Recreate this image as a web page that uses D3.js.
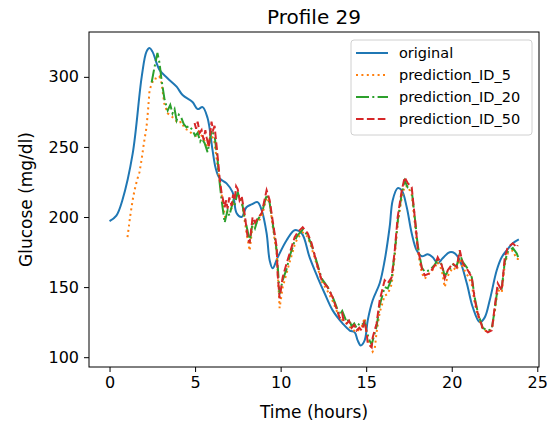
<!DOCTYPE html>
<html>
<head>
<meta charset="utf-8">
<script src="https://cdn.jsdelivr.net/npm/d3@7"></script>
<style>
  body { margin: 0; background: #fff; }
  text { font-family: "DejaVu Sans", sans-serif; fill: #000; }
</style>
</head>
<body>
<div id="chart"></div>
<script>
// original glucose profile
var origT = [0, 0.4, 0.75, 1.35, 1.88, 2.16, 2.34, 2.51, 2.92, 3.39, 3.92, 4.27, 4.85, 5.15, 5.44, 5.73, 6.02, 6.2, 6.43, 6.84, 7.19, 7.43, 7.72, 8.0, 8.3, 8.65, 8.89, 9.18, 9.36, 9.53, 9.82, 10.35, 10.82, 11.23, 11.7, 12.16, 12.57, 13.04, 13.63, 14.04, 14.33, 14.5, 14.68, 14.91, 15.09, 15.38, 15.79, 16.08, 16.37, 16.55, 16.84, 17.08, 17.37, 17.66, 17.95, 18.25, 18.6, 18.89, 19.18, 19.47, 19.88, 20.18, 20.47, 20.88, 21.23, 21.64, 21.93, 22.22, 22.63, 22.92, 23.22, 23.57, 23.92];
var origV = [197, 201, 212, 245, 300, 318, 320.6, 318, 305, 299, 293, 287, 282, 277, 278.4, 270.6, 247.7, 235, 227.7, 224, 217.7, 202.7, 200, 207, 209, 210.6, 204.9, 188.4, 169, 163.4, 171, 183.4, 190.6, 188.4, 171, 157, 145.6, 133.4, 124, 119, 117.7, 112, 108.4, 112, 126.3, 140.6, 152.7, 169, 192.7, 212, 220.6, 219, 207, 188.4, 176.3, 172, 173.4, 171.3, 167, 170.6, 174.9, 174.1, 169.1, 152.7, 135.6, 124.9, 128.4, 140.6, 162, 171.3, 176.3, 181.3, 184.1];

// prediction_ID_5
var p5T = [1.05, 1.2, 1.35, 1.46, 1.6, 1.75, 1.87, 2.0, 2.16, 2.25, 2.34, 2.5, 2.63, 2.8, 2.92, 3.04, 3.2, 3.4, 3.6, 3.8, 4.0, 4.2, 4.4, 4.6, 4.85, 5.05, 5.2, 5.38, 5.56, 5.73, 5.9, 6.1, 6.3, 6.43, 6.6, 6.75, 6.9, 7.13, 7.31, 7.49, 7.72, 7.89, 8.07, 8.19, 8.36, 8.65, 8.89, 9.18, 9.36, 9.53, 9.77, 9.94, 10.12, 10.35, 10.53, 10.82, 10.99, 11.29, 11.58, 11.81, 12.11, 12.4, 12.75, 13.04, 13.45, 13.86, 14.15, 14.44, 14.74, 14.91, 15.03, 15.2, 15.38, 15.5, 15.61, 15.79, 16.08, 16.26, 16.49, 16.67, 16.84, 17.08, 17.25, 17.43, 17.66, 17.84, 18.01, 18.25, 18.42, 18.71, 19.01, 19.18, 19.42, 19.59, 19.77, 20.06, 20.29, 20.47, 20.64, 20.94, 21.17, 21.35, 21.52, 21.81, 22.11, 22.34, 22.51, 22.69, 22.92, 23.1, 23.27, 23.57, 23.8, 23.92];
var p5V = [185.6, 200, 212, 219, 226, 232, 240.6, 252, 264, 276, 290.6, 296, 299, 298.4, 300, 295.6, 281, 274, 272, 270, 267, 268, 263, 262, 259, 258, 261, 258, 254, 250, 258, 256, 238, 226, 212, 200, 204, 206, 211, 216, 211, 198, 184, 176, 194, 196, 200, 214, 210, 194, 174, 135, 150, 160, 168, 180, 185, 189, 186, 178, 166, 154, 147, 140, 128, 124, 120, 118, 122, 128, 116, 110, 104, 106, 118, 132, 144, 145, 152, 172, 195, 214, 222, 222, 216, 196, 176, 160, 156, 160, 164, 168, 162, 150, 158, 164, 162, 170, 164, 158, 152, 138, 130, 120, 118, 120, 132, 148, 146, 166, 174, 176, 170, 170];

// prediction_ID_20
var p20T = [2.46, 2.63, 2.8, 2.92, 3.04, 3.22, 3.4, 3.55, 3.68, 3.8, 3.92, 4.05, 4.2, 4.35, 4.5, 4.65, 4.85, 5.0, 5.15, 5.3, 5.38, 5.56, 5.73, 5.85, 5.96, 6.14, 6.32, 6.43, 6.55, 6.73, 6.9, 7.0, 7.13, 7.22, 7.31, 7.49, 7.6, 7.72, 7.89, 8.07, 8.19, 8.36, 8.5, 8.65, 8.89, 9.18, 9.36, 9.53, 9.77, 9.94, 10.12, 10.35, 10.53, 10.82, 10.99, 11.29, 11.58, 11.81, 12.11, 12.4, 12.75, 13.04, 13.2, 13.45, 13.6, 13.86, 14.0, 14.15, 14.3, 14.44, 14.6, 14.74, 14.91, 15.03, 15.2, 15.32, 15.45, 15.61, 15.79, 16.08, 16.26, 16.49, 16.67, 16.84, 17.08, 17.25, 17.43, 17.66, 17.84, 18.01, 18.25, 18.42, 18.71, 19.01, 19.18, 19.42, 19.59, 19.77, 20.06, 20.29, 20.47, 20.64, 20.94, 21.17, 21.35, 21.52, 21.81, 22.11, 22.34, 22.51, 22.69, 22.92, 23.1, 23.27, 23.57, 23.8, 23.92];
var p20V = [296, 307, 317, 310, 297.7, 283.4, 276, 280, 274, 277, 269, 273, 270.6, 266, 264, 265, 262, 258, 260, 254, 256, 252.7, 246.3, 254, 262, 258, 240, 225, 212, 196, 205, 201, 207, 211, 208, 218, 213, 212, 200, 190, 182, 196, 192, 198, 202, 216, 210, 196, 176, 145, 155, 163, 172, 183, 187, 191, 187, 180, 168, 156, 150, 143, 138, 130, 133, 125, 127, 122, 124, 121, 124, 123, 125, 118, 112, 109, 115, 122, 137, 150, 149, 156, 175, 197, 217, 226, 221, 219, 200, 180, 164, 161, 162, 166, 170, 166, 158, 161, 166, 165, 174, 168, 163, 157, 142, 132, 121, 119, 120, 134, 150, 149, 168, 175, 178, 174, 170];

// prediction_ID_50
var p50T = [4.97, 5.06, 5.15, 5.27, 5.38, 5.5, 5.6, 5.67, 5.8, 5.96, 6.05, 6.14, 6.32, 6.43, 6.55, 6.73, 6.82, 6.9, 7.0, 7.13, 7.22, 7.31, 7.4, 7.49, 7.6, 7.72, 7.89, 8.07, 8.19, 8.36, 8.5, 8.65, 8.89, 9.18, 9.36, 9.53, 9.77, 9.82, 9.94, 10.12, 10.35, 10.53, 10.82, 10.99, 11.29, 11.58, 11.81, 12.11, 12.4, 12.75, 13.04, 13.45, 13.6, 13.7, 13.86, 14.0, 14.15, 14.3, 14.44, 14.6, 14.74, 14.91, 15.03, 15.09, 15.32, 15.38, 15.61, 15.79, 16.08, 16.26, 16.49, 16.67, 16.84, 17.08, 17.25, 17.43, 17.66, 17.84, 18.01, 18.25, 18.42, 18.71, 19.01, 19.18, 19.42, 19.59, 19.77, 20.06, 20.29, 20.47, 20.64, 20.94, 21.17, 21.35, 21.52, 21.81, 22.11, 22.34, 22.51, 22.69, 22.92, 23.1, 23.27, 23.57, 23.8, 23.86];
var p50V = [267, 263, 268, 260, 262, 255, 262, 257, 250, 268, 262, 265, 243, 228.4, 217, 207, 212, 206, 214, 208, 216, 212, 222, 220, 212, 215, 202.7, 185.6, 181.3, 199.9, 196, 199.1, 202.7, 219.1, 212, 197.7, 178.4, 159.9, 142, 157, 167, 174.1, 185.6, 189.1, 192.7, 188.4, 181.3, 167, 154.9, 149.9, 142.7, 128, 131, 125, 124, 126, 121, 123, 119, 121, 119, 126, 117, 109.9, 107, 114.1, 124.1, 140.6, 154.9, 152.7, 157, 176.3, 199.9, 219.1, 228.4, 224.1, 221.3, 199.9, 178.4, 163.4, 158.4, 159.9, 165.6, 171.3, 165.6, 156.3, 162, 167, 164.1, 176.3, 167, 162, 157, 140.6, 131.3, 120.6, 117.7, 119.1, 135.6, 152.7, 147.7, 171.3, 178.4, 181.3, 178.4, 179.9];

var xTicks = [0, 5, 10, 15, 20, 25];
var yTicks = [100, 150, 200, 250, 300];

var series = [
  { name: "original", t: origT, v: origV, color: "#1f77b4", dash: null, curve: d3.curveCatmullRom },
  { name: "prediction_ID_5", t: p5T, v: p5V, color: "#ff7f0e", dash: "2,3.4", curve: d3.curveLinear },
  { name: "prediction_ID_20", t: p20T, v: p20V, color: "#2ca02c", dash: "13,3.3,2,3.3", curve: d3.curveLinear },
  { name: "prediction_ID_50", t: p50T, v: p50V, color: "#d62728", dash: "7.6,3.3", curve: d3.curveLinear }
];

var W = 555, H = 425;
var margin = { left: 89, right: 16, top: 32, bottom: 58 };
var iw = W - margin.left - margin.right, ih = H - margin.top - margin.bottom;

var svg = d3.select("#chart").append("svg")
    .attr("width", W)
    .attr("height", H);

var g = svg.append("g")
    .attr("transform", "translate(" + margin.left + "," + margin.top + ")");

var x = d3.scaleLinear().domain([-1.2, 25.1]).range([0, iw]);
var y = d3.scaleLinear().domain([93, 332]).range([ih, 0]);

g.append("defs").append("clipPath").attr("id", "clip")
  .append("rect").attr("width", iw).attr("height", ih);

var lines = g.append("g").attr("clip-path", "url(#clip)");
series.forEach(function(s){
  var pts = s.t.map(function(t, i){ return [t, s.v[i]]; });
  var line = d3.line()
      .x(function(d){ return x(d[0]); })
      .y(function(d){ return y(d[1]); })
      .curve(s.curve);
  lines.append("path")
    .datum(pts)
    .attr("d", line)
    .attr("fill", "none")
    .attr("stroke", s.color)
    .attr("stroke-width", 2)
    .attr("stroke-dasharray", s.dash);
});

// axes
var xAxis = g.append("g")
    .attr("transform", "translate(0," + ih + ")")
    .call(d3.axisBottom(x).tickValues(xTicks).tickSize(5).tickPadding(5).tickFormat(d3.format("d")));
var yAxis = g.append("g")
    .call(d3.axisLeft(y).tickValues(yTicks).tickSize(5).tickPadding(5).tickFormat(d3.format("d")));

[xAxis, yAxis].forEach(function(a){
  a.select(".domain").remove();
  a.selectAll("line").attr("stroke", "#000").attr("stroke-width", 1);
  a.selectAll("text").style("font-size", "16px").style("font-family", "DejaVu Sans");
});

// frame
g.append("rect")
    .attr("width", iw).attr("height", ih)
    .attr("fill", "none").attr("stroke", "#000").attr("stroke-width", 1);

// labels
svg.append("text")
    .attr("x", margin.left + iw / 2).attr("y", 418)
    .attr("text-anchor", "middle")
    .style("font-size", "17px")
    .text("Time (hours)");

svg.append("text")
    .attr("transform", "translate(32," + (margin.top + ih / 2) + ") rotate(-90)")
    .attr("text-anchor", "middle")
    .style("font-size", "17px")
    .text("Glucose (mg/dl)");

svg.append("text")
    .attr("x", margin.left + iw / 2).attr("y", 24)
    .attr("text-anchor", "middle")
    .style("font-size", "20px")
    .text("Profile 29");

// legend
var lg = svg.append("g").attr("transform", "translate(351,40)");
lg.append("rect")
    .attr("width", 181).attr("height", 95)
    .attr("rx", 3)
    .attr("fill", "#fff").attr("fill-opacity", 0.8)
    .attr("stroke", "#d0d0d0");
series.forEach(function(s, i){
  var yy = 13 + i * 22;
  lg.append("line")
    .attr("x1", 5).attr("x2", 37).attr("y1", yy).attr("y2", yy)
    .attr("stroke", s.color).attr("stroke-width", 2)
    .attr("stroke-dasharray", s.dash);
  lg.append("text")
    .attr("x", 48).attr("y", yy)
    .attr("dy", "0.35em")
    .style("font-size", "14.5px")
    .text(s.name);
});
</script>
</body>
</html>
